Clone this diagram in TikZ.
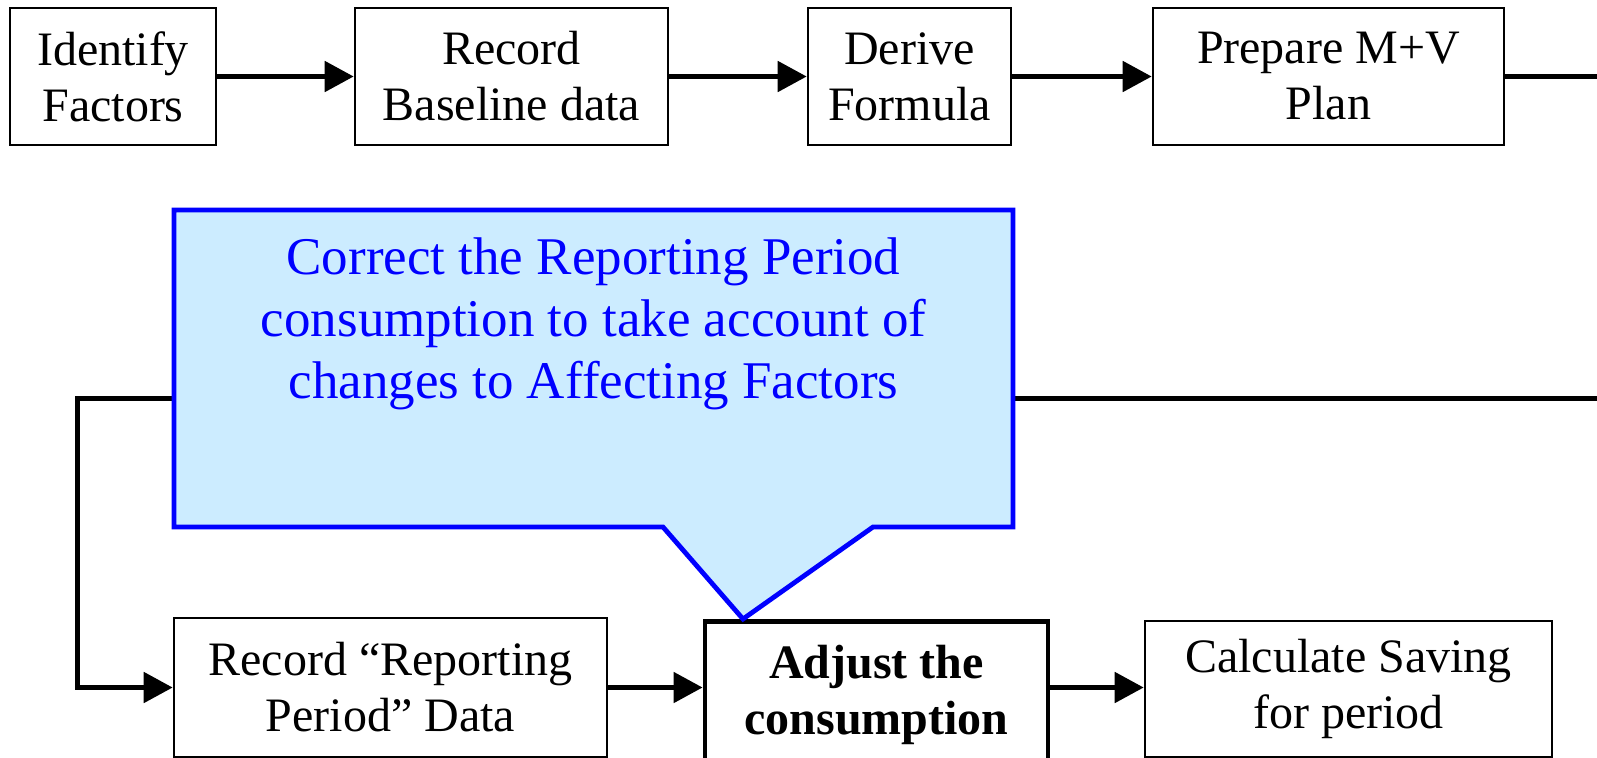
\documentclass[tikz,border=0pt]{standalone}
\usepackage{fontspec}
\setmainfont{Liberation Serif}
\usetikzlibrary{arrows.meta}
\definecolor{notefill}{RGB}{204,236,255}
\definecolor{noteblue}{RGB}{0,0,255}
\tikzset{
	stepbox/.style={draw, line width=1.3pt, align=center, inner sep=0pt, font=\fontsize{24}{28}\selectfont},
	mainbox/.style={stepbox, line width=2.4pt, font=\fontsize{24}{28}\selectfont\bfseries},
	flow/.style={line width=2.5pt, -{Triangle[length=14.5pt,width=15pt]}},
	link/.style={line width=2.5pt},
	callout/.style={draw=noteblue, fill=notefill, line width=2.4pt, line join=miter},
	notetext/.style={anchor=north, align=center, inner sep=0pt, text=noteblue, font=\fontsize{26.5}{31}\selectfont},
}
\begin{document}
\begin{tikzpicture}[x=0.5pt, y=-0.5pt]

		\useasboundingbox (0,0) rectangle (1597,757);

		% top row
		\node[stepbox, minimum width=103pt, minimum height=68.5pt] (identify) at (113,76.5) {Identify\\Factors};
		\node[stepbox, minimum width=156.5pt, minimum height=68.5pt] (baseline) at (511.5,76.5) {Record\\Baseline data};
		\node[stepbox, minimum width=101.5pt, minimum height=68.5pt] (formula) at (909.5,76.5) {Derive\\Formula};
		\node[stepbox, minimum width=175.5pt, minimum height=68.5pt] (plan) at (1328.5,76.5) {Prepare M+V\\Plan};

		\coordinate (exitTop) at (1597,76.5);
		\coordinate (exitMid) at (1597,398);
		\coordinate (loopTop) at (77,398);

		\draw[flow] (identify) -- (baseline);
		\draw[flow] (baseline) -- (formula);
		\draw[flow] (formula) -- (plan);
		\draw[link] (plan.east) -- (exitTop);

		% bottom row
		\node[stepbox, minimum width=216.5pt, minimum height=69.5pt] (reporting) at (390.5,687.5) {Record “Reporting\\Period” Data};
		\node[mainbox, minimum width=171.5pt, minimum height=74pt, anchor=north] (adjust) at (876.5,619) {Adjust the\\consumption};
		\node[stepbox, minimum width=203.5pt, minimum height=68pt] (saving) at (1348.5,689) {Calculate Saving\\for period};

		\draw[flow] (exitMid) -- (loopTop) |- (reporting.west);
		\draw[flow] (reporting.east) -- (reporting.east -| adjust.west);
		\draw[flow] (adjust.east |- reporting.east) -- (adjust.east |- reporting.east -| saving.west);

		% callout
		\coordinate (tip) at (743,619);
		\draw[callout] (174,210) -- (1013,210) -- (1013,527) -- (873,527) -- (tip) -- (663,527) -- (174,527) -- cycle;
		\node[notetext] (note) at (593.5,237) {Correct the Reporting Period\\consumption to take account of\\changes to Affecting Factors};

	\end{tikzpicture}
\end{document}
